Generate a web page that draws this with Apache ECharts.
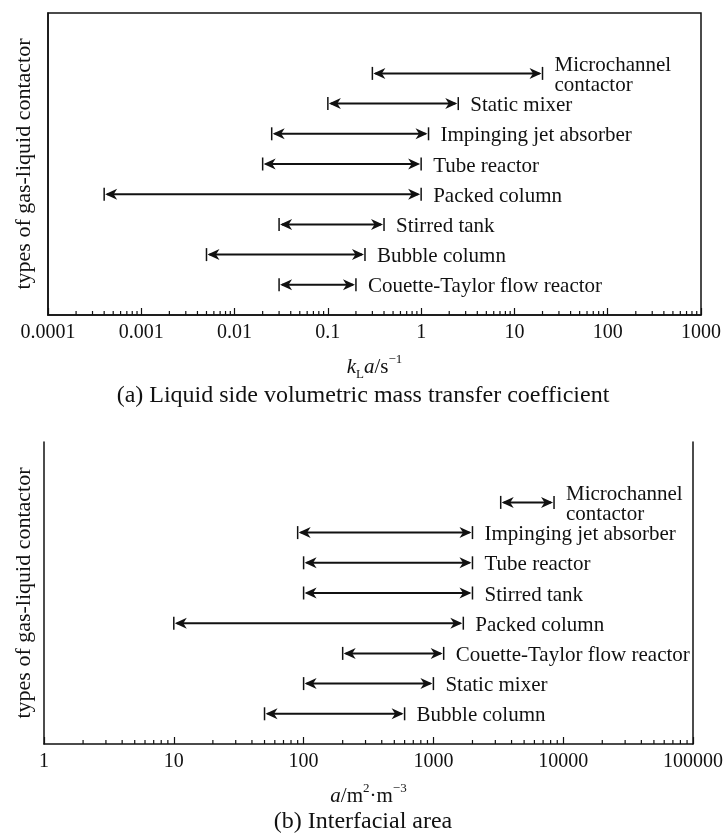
<!DOCTYPE html>
<html>
<head>
<meta charset="utf-8">
<script src="https://cdn.jsdelivr.net/npm/echarts@6/dist/echarts.min.js"></script>
<style>
html,body{margin:0;padding:0;background:#fff;}
#chart{width:726px;height:836px;}
</style>
</head>
<body>
<div id="chart"></div>
<script>
// ---- data (a): liquid side volumetric mass transfer coefficient, kLa / s^-1 ----
const topCategories = ['Couette-Taylor flow reactor', 'Bubble column', 'Stirred tank', 'Packed column',
  'Tube reactor', 'Impinging jet absorber', 'Static mixer', 'Microchannel\ncontactor'];
const topLow  = [0.03, 0.005, 0.03, 0.0004, 0.02, 0.025, 0.1, 0.3];
const topHigh = [0.2, 0.25, 0.4, 1, 1, 1.2, 2.5, 20];
const topTickLabels = ['0.0001', '0.001', '0.01', '0.1', '1', '10', '100', '1000'];

// ---- data (b): interfacial area, a / m2·m-3 ----
const bottomCategories = ['Bubble column', 'Static mixer', 'Couette-Taylor flow reactor', 'Packed column',
  'Stirred tank', 'Tube reactor', 'Impinging jet absorber', 'Microchannel\ncontactor'];
const bottomLow  = [50, 100, 200, 10, 100, 100, 90, 3300];
const bottomHigh = [600, 1000, 1200, 1700, 2000, 2000, 2000, 8500];
const bottomTickLabels = ['1', '10', '100', '1000', '10000', '100000'];

const minorMultipliers = [2, 3, 4, 5, 6, 7, 8, 9];

const FONT = '"Liberation Serif", "Times New Roman", serif';
const INK = '#111';

function rowsData(low, high) {
  return low.map((l, i) => [l, i + 1, high[i]]);
}
function minorTickData(tickLabels) {
  const out = [];
  for (let i = 0; i < tickLabels.length - 1; i++) {
    const d = parseFloat(tickLabels[i]);
    minorMultipliers.forEach(m => out.push([d * m, 0]));
  }
  return out;
}
function makeArrowRender(categories) {
  return function (params, api) {
    const yv = api.value(1);
    const p0 = api.coord([api.value(0), yv]);
    const p1 = api.coord([api.value(2), yv]);
    const x0 = p0[0], x1 = p1[0], y = p0[1];
    const L = 12, W = 5.5, N = 3.5;
    return {
      type: 'group',
      children: [
        {type: 'line', shape: {x1: x0 + 3, y1: y, x2: x1 - 3, y2: y}, style: {stroke: INK, lineWidth: 2}},
        {type: 'polygon', shape: {points: [[x0 + 1, y], [x0 + 1 + L, y - W], [x0 + 1 + L - N, y], [x0 + 1 + L, y + W]]}, style: {fill: INK}},
        {type: 'polygon', shape: {points: [[x1 - 1, y], [x1 - 1 - L, y - W], [x1 - 1 - L + N, y], [x1 - 1 - L, y + W]]}, style: {fill: INK}},
        {type: 'line', shape: {x1: x0, y1: y - 6.5, x2: x0, y2: y + 6.5}, style: {stroke: INK, lineWidth: 1.5}},
        {type: 'line', shape: {x1: x1, y1: y - 6.5, x2: x1, y2: y + 6.5}, style: {stroke: INK, lineWidth: 1.5}},
        {type: 'text', x: x1 + 12, y: y + 2, style: {
          text: categories[params.dataIndex], fill: INK, font: '21px ' + FONT,
          align: 'left', verticalAlign: 'middle', lineHeight: 20}}
      ]
    };
  };
}
function minorTickRender(params, api) {
  const p = api.coord([api.value(0), 0]);
  return {type: 'line', shape: {x1: p[0], y1: p[1], x2: p[0], y2: p[1] - 4}, style: {stroke: INK, lineWidth: 1.2}};
}
function labelFormatter(tickLabels) {
  return function (v) {
    const e = Math.round(Math.log10(v));
    const base = Math.round(Math.log10(parseFloat(tickLabels[0])));
    return tickLabels[e - base] || '';
  };
}

const xAxisCommon = {
  type: 'log', logBase: 10, interval: 1,
  nameLocation: 'middle',
  axisLine: {show: true, lineStyle: {color: INK, width: 1.5}},
  axisTick: {show: true, inside: true, length: 7, lineStyle: {color: INK, width: 1.2}},
  axisLabel: {color: INK, fontFamily: FONT, fontSize: 20, margin: 8},
  splitLine: {show: false},
  minorTick: {show: false}
};
const yAxisCommon = {
  type: 'value', min: 0, max: 10,
  nameLocation: 'middle', nameRotate: 90,
  nameTextStyle: {color: INK, fontFamily: FONT, fontSize: 22},
  axisLine: {show: true, lineStyle: {color: INK, width: 1.5}},
  axisTick: {show: false}, axisLabel: {show: false}, splitLine: {show: false}
};
const nameRich = {
  r: {fontFamily: FONT, fontSize: 21, color: INK, lineHeight: 28},
  i: {fontFamily: FONT, fontSize: 21, fontStyle: 'italic', color: INK, lineHeight: 28},
  sub: {fontFamily: FONT, fontSize: 13, color: INK, lineHeight: 14, verticalAlign: 'bottom'},
  sup: {fontFamily: FONT, fontSize: 13, color: INK, lineHeight: 14, verticalAlign: 'top'}
};

const chart = echarts.init(document.getElementById('chart'), null, {renderer: 'canvas'});
chart.setOption({
  backgroundColor: '#fff',
  animation: false,
  title: [
    {text: '(a) Liquid side volumetric mass transfer coefficient', left: 'center', top: 384, padding: 0,
      textStyle: {fontFamily: FONT, fontSize: 24, fontWeight: 'normal', color: INK}},
    {text: '(b) Interfacial area', left: 'center', top: 810, padding: 0,
      textStyle: {fontFamily: FONT, fontSize: 24, fontWeight: 'normal', color: INK}}
  ],
  grid: [
    {left: 48, right: 25, top: 13, height: 302, show: true, borderColor: INK, borderWidth: 1.5, backgroundColor: 'transparent'},
    {left: 44, right: 28, top: 442, height: 302, show: false}
  ],
  xAxis: [
    Object.assign({}, xAxisCommon, {gridIndex: 0, min: 0.0001, max: 1000,
      name: '{i|k}{sub|L}{i|a}{r|/s}{sup|−1}', nameGap: 38,
      nameTextStyle: {rich: nameRich},
      axisLabel: Object.assign({}, xAxisCommon.axisLabel, {formatter: labelFormatter(topTickLabels)})}),
    Object.assign({}, xAxisCommon, {gridIndex: 1, min: 1, max: 100000,
      name: '{i|a}{r|/m}{sup|2}{r|·m}{sup|−3}', nameGap: 38,
      nameTextStyle: {rich: nameRich},
      axisLabel: Object.assign({}, xAxisCommon.axisLabel, {formatter: labelFormatter(bottomTickLabels)})})
  ],
  yAxis: [
    Object.assign({}, yAxisCommon, {gridIndex: 0, name: 'types of gas-liquid contactor', nameGap: 13}),
    Object.assign({}, yAxisCommon, {gridIndex: 1, name: 'types of gas-liquid contactor', nameGap: 9}),
    Object.assign({}, yAxisCommon, {gridIndex: 1, position: 'right', name: ''})
  ],
  series: [
    {type: 'custom', xAxisIndex: 0, yAxisIndex: 0, clip: false, silent: true,
      renderItem: makeArrowRender(topCategories), data: rowsData(topLow, topHigh)},
    {type: 'custom', xAxisIndex: 1, yAxisIndex: 1, clip: false, silent: true,
      renderItem: makeArrowRender(bottomCategories), data: rowsData(bottomLow, bottomHigh)},
    {type: 'custom', xAxisIndex: 0, yAxisIndex: 0, silent: true,
      renderItem: minorTickRender, data: minorTickData(topTickLabels)},
    {type: 'custom', xAxisIndex: 1, yAxisIndex: 1, silent: true,
      renderItem: minorTickRender, data: minorTickData(bottomTickLabels)}
  ]
});
</script>
</body>
</html>
